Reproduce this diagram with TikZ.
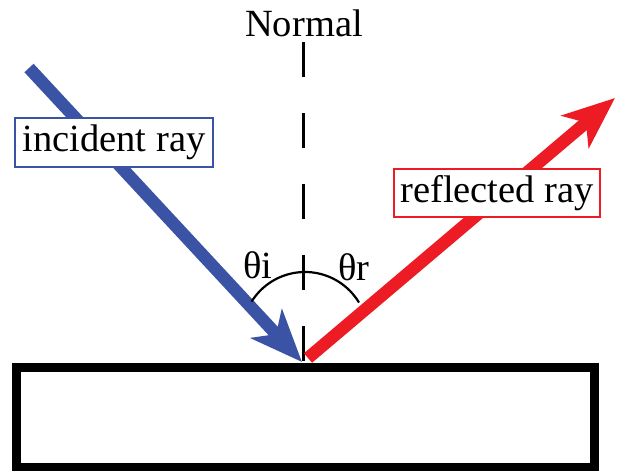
\documentclass[tikz,border=0pt]{standalone}
\usepackage{fontspec}
\setmainfont{Liberation Serif}
\usetikzlibrary{arrows.meta}
\definecolor{rayblue}{RGB}{58,83,164}
\definecolor{rayred}{RGB}{237,28,36}
\begin{document}
\begin{tikzpicture}[x=1pt,y=-1pt,
  lbl/.style={font=\fontsize{38.5}{44}\selectfont, inner sep=0pt},
  ray/.style={line width=12.5pt, -{Stealth[length=52pt,width=42pt,inset=14pt]}},
  tag/.style={lbl, draw, line width=1.7pt, fill=white},
  anglearc/.style={line width=2.2pt},
]
\useasboundingbox (0,0) rectangle (622,471);
% surface
\draw[line width=9pt] (16.5,367.5) rectangle (594.5,467.5);
% coordinates
\coordinate (hit) at (303,362);
\coordinate (ntop) at (303,42);
\coordinate (btail) at (29,68);
\coordinate (bhit) at (302,362);
\coordinate (rtail) at (308,358);
\coordinate (rtip) at (615,98);
% normal
\draw[line width=3pt, dash pattern=on 35pt off 36pt] (ntop) -- (hit);
\node[lbl] (normal) at (304,23) {Normal};
% rays
\draw[ray, draw=rayblue, fill=rayblue] (btail) -- (bhit);
\draw[ray, draw=rayred, fill=rayred] (rtail) -- (rtip);
% angle arc
\draw[anglearc] ([shift={(-148:63)}]305,335) arc[start angle=-148, end angle=-31, radius=63];
\node[lbl] (thi) at (258,265) {θi};
\node[lbl] (thr) at (354,267) {θr};
% labels
\node[tag, draw=rayblue, minimum width=198pt, minimum height=49pt] (inc) at (114,142.5) {incident ray};
\node[tag, draw=rayred, minimum width=206pt, minimum height=48pt] (refl) at (497,193) {reflected ray};
\end{tikzpicture}
\end{document}
